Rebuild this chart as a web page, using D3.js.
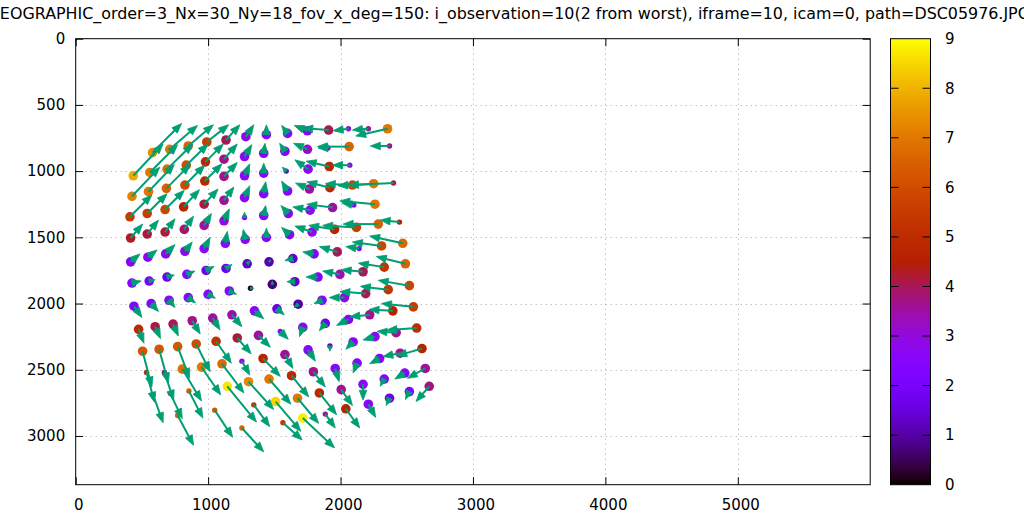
<!DOCTYPE html>
<html><head><meta charset="utf-8">
<script src="https://cdn.jsdelivr.net/npm/d3@7"></script>
<style>
body{margin:0;background:#fff}
svg{display:block}
text{font-family:"DejaVu Sans",sans-serif;font-size:15px;fill:#000}
</style>
</head><body>
<svg id="chart" width="1024" height="515"></svg>
<script>
const titleText = "LENSMODEL_SPLINED_STEREOGRAPHIC_order=3_Nx=30_Ny=18_fov_x_deg=150: i_observation=10(2 from worst), iframe=10, icam=0, path=DSC05976.JPG";
const xTicks = [0, 1000, 2000, 3000, 4000, 5000];
const yTicks = [0, 500, 1000, 1500, 2000, 2500, 3000];
const cbTicks = [0, 1, 2, 3, 4, 5, 6, 7, 8, 9];
const xDomain = [0, 6000];
const yDomain = [0, 3368];
const cbDomain = [0, 9];

// observed point positions (image pixels)
const obsX = [
  580,710,850,990,1135,1285,1440,1600,1750,1910,2060,2210,2355,
  435,560,690,835,980,1120,1275,1420,1580,1750,1905,2065,2370,
  425,550,685,825,975,1120,1275,1420,1590,1755,1915,2070,
  410,540,675,815,970,1120,1275,1420,1600,1765,1920,2090,2250,2400,
  415,540,675,820,970,1120,1275,1420,1605,1770,1940,2100,2260,
  415,545,680,825,970,1130,1280,1440,1615,1785,1955,2120,2285,2445,
  425,555,690,840,985,1135,1295,1460,1640,1800,1975,2140,2310,2470,
  440,570,705,850,1000,1160,1320,1485,1655,1830,1995,2170,2330,2490,
  475,600,735,880,1035,1180,1350,1520,1680,1860,2030,2190,2360,2520,
  505,630,770,910,1060,1220,1380,1545,1715,1885,2060,2220,2395,2550,
  535,670,805,950,1105,1255,1415,1580,1755,1920,2095,2260,2420,2575,
  585,715,855,1145,1305,1460,1630,1795,1960,2125,2295,2450,2615,
  770,1050,1345,1510,1675,1840,2005,2170,2330,2485,2640,
  1255,1565,1715,1885,2040,2210,2370,2520,2670
];
const obsY = [
  860,835,810,780,765,740,725,715,695,690,680,680,680,
  1035,1010,985,955,930,910,890,865,850,835,825,815,810,
  1190,1155,1130,1105,1075,1040,1035,1015,1000,985,965,955,
  1345,1320,1290,1270,1250,1220,1200,1170,1150,1135,1125,1105,1095,1090,
  1505,1475,1460,1440,1410,1375,1350,1335,1320,1295,1275,1255,1250,
  1685,1650,1625,1605,1585,1545,1515,1500,1480,1460,1440,1425,1400,1385,
  1845,1830,1800,1780,1750,1735,1700,1685,1660,1625,1610,1585,1565,1545,
  2020,2000,1975,1955,1930,1905,1885,1855,1835,1800,1780,1760,1725,1700,
  2195,2175,2155,2130,2110,2085,2055,2040,2005,1975,1955,1925,1895,1865,
  2360,2345,2325,2305,2285,2260,2240,2210,2180,2150,2120,2085,2055,2025,
  2520,2520,2495,2480,2455,2435,2415,2385,2350,2320,2290,2250,2220,2185,
  2690,2680,2660,2625,2590,2570,2545,2515,2490,2450,2415,2375,2340,
  2845,2805,2765,2740,2715,2675,2650,2610,2570,2525,2490,
  2940,2900,2865,2835,2795,2760,2715,2665,2625
];
// residual vectors (image pixels, scaled)
const errX = [
  220,210,190,165,105,60,0,-45,-100,-195,-115,-120,-240,
  225,210,195,165,135,100,55,10,-40,-105,-75,-240,-145,
  210,195,180,150,130,100,40,0,-30,-100,-175,-130,
  165,150,145,120,105,75,40,15,-45,-105,-175,-205,-270,-340,
  90,85,75,70,55,40,0,15,-55,-130,-195,-90,-265,
  70,70,70,55,45,15,-15,0,-60,-130,-195,-255,-265,-145,
  70,45,55,60,60,45,25,15,-60,-85,-135,-100,-220,-250,
  60,55,45,55,55,55,25,0,-60,-90,-130,-165,-195,-220,
  40,40,40,60,55,75,70,55,-30,-60,-115,-195,-210,-235,
  70,70,90,105,115,105,90,60,-25,-45,-90,-150,-180,-240,
  60,70,145,145,165,60,130,60,55,0,-55,-90,-145,-225,
  75,90,105,220,190,165,130,90,30,-30,-75,-130,-190,
  120,135,120,190,160,130,85,0,-30,-75,-135,
  165,145,240,75,105,55,-25,-30,-100
];
const errY = [
  -220,-180,-160,-130,-115,-90,-75,-60,-40,-15,15,10,55,
  -240,-210,-190,-160,-135,-115,-90,-75,-60,-45,0,0,0,
  -220,-205,-180,-150,-130,-105,-90,-75,-30,-70,-40,0,
  -165,-150,-145,-130,-115,-100,-90,-90,-75,-45,-45,-10,15,15,
  -105,-105,-100,-100,-90,-90,-40,-75,-60,-25,-25,-15,-25,
  -60,-55,-70,-70,-85,-90,-75,-70,-55,-45,-30,-15,0,-15,
  -15,-10,-15,-25,-30,-30,-25,-15,15,-15,-40,-15,-30,-55,
  85,60,55,40,30,25,0,-25,0,0,-25,-15,-30,-55,
  105,90,90,100,90,90,60,45,25,25,0,-15,-25,-40,
  270,255,240,210,165,120,90,60,70,55,45,15,-10,-25,
  225,210,240,210,220,105,135,105,85,40,55,25,-10,15,
  210,190,205,270,210,190,160,115,100,75,40,25,55,
  225,205,165,225,190,165,120,120,55,45,75,
  180,130,225,105,145,100,55,60,115
];
// colour value of each point
const colorValue = [
  7.4,7.0,6.6,5.6,4.0,2.8,2.6,2.6,2.6,4.0,3.0,3.6,7.0,
  7.9,7.0,6.8,6.0,4.8,3.7,2.6,2.5,2.5,3.2,2.7,6.6,3.7,
  7.2,6.9,6.5,5.9,4.8,3.7,2.7,2.5,1.4,2.7,4.8,2.8,
  5.5,5.6,5.8,4.7,4.1,3.6,2.7,2.5,2.5,3.5,4.8,5.9,6.9,4.1,
  4.3,4.1,4.2,3.9,3.5,3.0,2.4,2.6,2.6,2.7,3.5,2.4,6.9,
  2.5,2.6,2.8,2.8,2.7,2.6,2.6,2.4,2.6,2.8,4.7,5.6,6.5,4.5,
  2.4,2.0,1.7,2.3,1.6,1.6,1.3,1.1,1.3,2.3,4.0,2.6,5.8,6.7,
  2.3,2.4,2.5,2.5,2.5,2.5,0.3,0.7,1.3,2.4,3.4,4.0,5.3,6.6,
  4.9,4.1,4.0,3.7,3.5,3.4,2.6,1.6,1.0,2.5,2.8,4.0,5.3,5.8,
  6.3,6.3,6.3,6.0,5.2,4.2,3.5,2.6,2.6,1.8,2.6,3.6,4.6,5.5,
  5.0,3.7,6.8,7.0,6.7,2.8,4.7,3.6,2.6,1.3,2.5,2.7,3.6,5.0,
  5.6,5.6,6.5,8.7,7.3,7.0,4.8,3.7,2.7,2.5,2.5,3.6,4.7,
  6.5,6.3,5.3,8.5,7.0,4.8,3.6,2.7,2.5,2.4,3.6,
  6.6,5.3,8.8,3.6,4.7,2.6,1.7,2.4,3.7
];
// point weight (1 = normal, 0 = reduced)
const pointWeight = [
  1,1,1,1,1,1,1,1,1,1,0,0,1,
  1,1,1,1,1,1,1,1,1,1,0,1,0,
  1,1,1,1,1,1,1,1,0,1,1,0,
  1,1,1,1,1,1,1,1,1,1,1,1,1,0,
  1,1,1,1,1,1,0,1,1,1,1,0,1,
  1,1,1,1,1,1,1,1,1,1,1,1,1,0,
  1,1,1,1,1,1,1,1,1,1,1,0,1,1,
  1,1,1,1,1,1,0,1,1,1,1,1,1,1,
  1,1,1,1,1,1,1,1,1,1,1,1,1,1,
  1,1,1,1,1,1,1,0,1,1,1,1,1,1,
  0,0,1,1,1,0,1,1,1,0,1,1,1,1,
  0,0,0,1,1,1,1,1,1,1,1,1,1,
  0,0,0,1,1,1,1,1,1,1,1,
  0,0,1,0,1,1,1,1,1
];

const L = 75.7, R = 870.2, T = 38.7, B = 484.7;
const CBL = 890.5, CBR = 930.5;
const svg = d3.select("#chart");

const x = d3.scaleLinear().domain(xDomain).range([L, R]);
const y = d3.scaleLinear().domain(yDomain).range([T, B]);
const cbY = d3.scaleLinear().domain(cbDomain).range([B, T]);
const pal = t => { t = Math.max(0, Math.min(1, t)); return d3.rgb(255*Math.sqrt(t), 255*t*t*t, 255*Math.max(0, Math.sin(2*Math.PI*t))).toString(); };
const color = d3.scaleSequential(pal).domain(cbDomain);
const radius = d3.scaleLinear().domain([0, 1]).range([2.7, 4.8]);

// title
svg.append("text").attr("x", 1030).attr("y", 18.5).attr("text-anchor", "end")
  .style("font-size", "15.9px").text(titleText);

// grid
const grid = svg.append("g").attr("stroke", "#a8a8a8").attr("stroke-width", 1).attr("stroke-dasharray", "1,4");
grid.selectAll("line.gx").data(xTicks.filter(d => d > xDomain[0])).enter().append("line")
  .attr("x1", d => Math.round(x(d)) + 0.5).attr("x2", d => Math.round(x(d)) + 0.5).attr("y1", T).attr("y2", B);
grid.selectAll("line.gy").data(yTicks.filter(d => d > yDomain[0])).enter().append("line")
  .attr("y1", d => Math.round(y(d)) + 0.5).attr("y2", d => Math.round(y(d)) + 0.5).attr("x1", L).attr("x2", R);

// axes
const tk = 7.5;
const axB = svg.append("g").attr("transform", `translate(0,${B})`)
  .call(d3.axisBottom(x).tickValues(xTicks).tickSize(-tk).tickPadding(14.5).tickFormat(d3.format("d")));
axB.selectAll("text").attr("dx", 2.5);
const axT = svg.append("g").attr("transform", `translate(0,${T})`)
  .call(d3.axisTop(x).tickValues(xTicks).tickSize(-tk).tickFormat(""));
const axL = svg.append("g").attr("transform", `translate(${L},0)`)
  .call(d3.axisLeft(y).tickValues(yTicks).tickSize(-tk).tickPadding(10.5).tickFormat(d3.format("d")));
const axR = svg.append("g").attr("transform", `translate(${R},0)`)
  .call(d3.axisRight(y).tickValues(yTicks).tickSize(-tk).tickFormat(""));
[axB, axT, axL, axR].forEach(a => {
  a.select(".domain").remove();
  a.selectAll("line").attr("stroke", "#000").attr("stroke-width", 1);
  a.selectAll("text").style("font-family", "DejaVu Sans, sans-serif").style("font-size", "15px").attr("fill", "#000");
});

// points
const idx = d3.range(obsX.length);
svg.append("g").selectAll("circle").data(idx).enter().append("circle")
  .attr("cx", i => x(obsX[i])).attr("cy", i => y(obsY[i]))
  .attr("r", i => radius(pointWeight[i]))
  .attr("fill", i => color(colorValue[i]));

// vectors
const vec = svg.append("g");
const green = "#009e73";
idx.forEach(i => {
  const x0 = x(obsX[i]), y0 = y(obsY[i]);
  const x1 = x(obsX[i] + errX[i]), y1 = y(obsY[i] + errY[i]);
  const len = Math.hypot(x1 - x0, y1 - y0);
  if (len < 0.5) return;
  const ux = (x1 - x0) / len, uy = (y1 - y0) / len;
  const hl = Math.min(10, len), hw = hl * 0.38;
  const bx = x1 - ux * hl, by = y1 - uy * hl;
  vec.append("line").attr("x1", x0).attr("y1", y0).attr("x2", bx + ux * 1).attr("y2", by + uy * 1)
    .attr("stroke", green).attr("stroke-width", 2);
  vec.append("path")
    .attr("d", `M${x1},${y1}L${bx - uy * hw},${by + ux * hw}L${bx + uy * hw},${by - ux * hw}Z`)
    .attr("fill", green).attr("stroke", green).attr("stroke-width", 0.8).attr("stroke-linejoin", "miter");
});

// border
svg.append("rect").attr("x", L).attr("y", T).attr("width", R - L).attr("height", B - T)
  .attr("fill", "none").attr("stroke", "#000").attr("stroke-width", 1);

// colorbar
const defs = svg.append("defs");
const grad = defs.append("linearGradient").attr("id", "cbg").attr("x1", 0).attr("y1", 1).attr("x2", 0).attr("y2", 0);
d3.range(0, 101).forEach(k => grad.append("stop").attr("offset", k / 100).attr("stop-color", pal(k / 100)));
svg.append("rect").attr("x", CBL).attr("y", T).attr("width", CBR - CBL).attr("height", B - T).attr("fill", "url(#cbg)");
const cbT = svg.append("g");
cbT.selectAll("line.l").data(cbTicks.filter(d => d > 0 && d < 9)).enter().append("line")
  .attr("x1", CBL).attr("x2", CBL + 8).attr("y1", d => cbY(d)).attr("y2", d => cbY(d)).attr("stroke", "#000");
cbT.selectAll("line.r").data(cbTicks.filter(d => d > 0 && d < 9)).enter().append("line")
  .attr("x1", CBR - 8).attr("x2", CBR).attr("y1", d => cbY(d)).attr("y2", d => cbY(d)).attr("stroke", "#000");
cbT.selectAll("text").data(cbTicks).enter().append("text")
  .attr("x", 945).attr("y", d => cbY(d)).attr("dy", "0.35em").text(d => d);
svg.append("rect").attr("x", CBL).attr("y", T).attr("width", CBR - CBL).attr("height", B - T)
  .attr("fill", "none").attr("stroke", "#000").attr("stroke-width", 1);
</script>
</body></html>
